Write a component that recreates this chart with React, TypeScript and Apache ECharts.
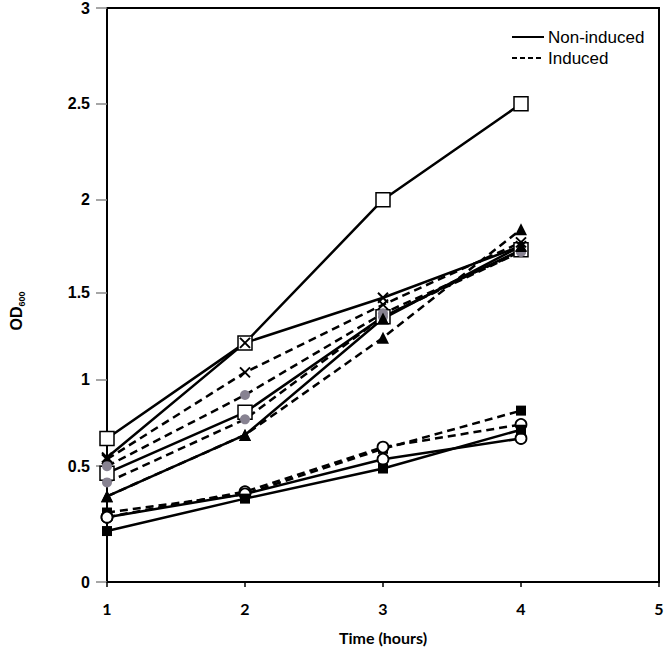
import React, { useEffect, useRef } from "react";
import * as echarts from "echarts";

// ---- data ----
const TIMES = [1, 2, 3, 4];
const X_TICKS = [1, 2, 3, 4, 5];
const Y_TICKS = [0, 0.5, 1, 1.5, 2, 2.5, 3];
const Y_TICK_LABELS = ["0", "0.5", "1", "1.5", "2", "2.5", "3"];
const LEGEND_LABELS = ["Non-induced", "Induced"];

const OPEN_SQUARE_A_NON = [0.66, 1.21, 2.0, 2.5];
const CROSS_NON = [0.55, 1.21, 1.47, 1.75];
const CROSS_IND = [0.54, 1.04, 1.43, 1.77];
const OPEN_SQUARE_B_NON = [0.47, 0.81, 1.36, 1.73];
const GRAY_CIRCLE_A_IND = [0.5, 0.91, 1.38, 1.72];
const GRAY_CIRCLE_B_IND = [0.43, 0.77, 1.36, 1.72];
const TRIANGLE_NON = [0.37, 0.68, 1.35, 1.75];
const TRIANGLE_IND = [0.37, 0.68, 1.24, 1.84];
const FILLED_SQUARE_IND = [0.3, 0.38, 0.6, 0.82];
const OPEN_CIRCLE_IND = [0.28, 0.39, 0.61, 0.74];
const OPEN_CIRCLE_NON = [0.28, 0.38, 0.54, 0.66];
const FILLED_SQUARE_NON = [0.22, 0.36, 0.49, 0.71];

// ---- axis layout: the reference's y axis has uneven tick spacing ----
// axis units (≈ px from the bottom of the plot) at which each Y_TICKS value sits
const Y_AXIS_STOPS = [0, 116, 203, 290, 383, 479, 575];

function toAxis(v: number): number {
  for (let i = 0; i < Y_TICKS.length - 1; i++) {
    if (v <= Y_TICKS[i + 1]) {
      const t = (v - Y_TICKS[i]) / (Y_TICKS[i + 1] - Y_TICKS[i]);
      return Y_AXIS_STOPS[i] + t * (Y_AXIS_STOPS[i + 1] - Y_AXIS_STOPS[i]);
    }
  }
  return Y_AXIS_STOPS[Y_AXIS_STOPS.length - 1];
}

const GRAY = "#878291";
const CROSS_PATH = "path://M0,0L10,10M10,0L0,10";
const ARIAL = "Liberation Sans, Arial, sans-serif";
const CALIBRI_LIKE = "Lato, sans-serif";

type Marker = "openSquare" | "cross" | "grayCircle" | "triangle" | "filledSquare" | "openCircle";

const SERIES: { name: string; values: number[]; marker: Marker; dashed: boolean }[] = [
  { name: "Open square A (non-induced)", values: OPEN_SQUARE_A_NON, marker: "openSquare", dashed: false },
  { name: "Open square B (non-induced)", values: OPEN_SQUARE_B_NON, marker: "openSquare", dashed: false },
  { name: "Cross (induced)", values: CROSS_IND, marker: "cross", dashed: true },
  { name: "Cross (non-induced)", values: CROSS_NON, marker: "cross", dashed: false },
  { name: "Gray circle A (induced)", values: GRAY_CIRCLE_A_IND, marker: "grayCircle", dashed: true },
  { name: "Gray circle B (induced)", values: GRAY_CIRCLE_B_IND, marker: "grayCircle", dashed: true },
  { name: "Triangle (non-induced)", values: TRIANGLE_NON, marker: "triangle", dashed: false },
  { name: "Triangle (induced)", values: TRIANGLE_IND, marker: "triangle", dashed: true },
  { name: "Filled square (induced)", values: FILLED_SQUARE_IND, marker: "filledSquare", dashed: true },
  { name: "Open circle (induced)", values: OPEN_CIRCLE_IND, marker: "openCircle", dashed: true },
  { name: "Open circle (non-induced)", values: OPEN_CIRCLE_NON, marker: "openCircle", dashed: false },
  { name: "Filled square (non-induced)", values: FILLED_SQUARE_NON, marker: "filledSquare", dashed: false },
];

function markerStyle(m: Marker) {
  switch (m) {
    case "openSquare":
      return { symbol: "rect", symbolSize: 14, itemStyle: { color: "#fff", borderColor: "#000", borderWidth: 1.5 } };
    case "cross":
      return { symbol: CROSS_PATH, symbolSize: 10, itemStyle: { color: "transparent", borderColor: "#000", borderWidth: 2 } };
    case "grayCircle":
      return { symbol: "circle", symbolSize: 10, itemStyle: { color: GRAY, borderWidth: 0 } };
    case "triangle":
      return { symbol: "triangle", symbolSize: 12, itemStyle: { color: "#000", borderWidth: 0 } };
    case "filledSquare":
      return { symbol: "rect", symbolSize: 10, itemStyle: { color: "#000", borderWidth: 0 } };
    case "openCircle":
      return { symbol: "circle", symbolSize: 11, itemStyle: { color: "#fff", borderColor: "#000", borderWidth: 1.8 } };
  }
}

const DASH = [8, 5];

export default function App() {
  const ref = useRef<HTMLDivElement>(null);

  useEffect(() => {
    if (!ref.current) return;
    const chart = echarts.init(ref.current, undefined, { renderer: "svg" });

    const dataSeries = SERIES.map((s) => ({
      name: s.name,
      type: "line",
      data: TIMES.map((t, i) => [t, toAxis(s.values[i])]),
      showSymbol: true,
      ...markerStyle(s.marker),
      lineStyle: { color: "#000", width: 2.5, type: s.dashed ? DASH : "solid" },
      emphasis: { disabled: true },
      z: 3,
    }));

    const legendRows = LEGEND_LABELS.map((label, i) => {
      const y = 37 + i * 21;
      return [
        {
          type: "line",
          shape: { x1: 512, y1: y, x2: 544, y2: y },
          style: { stroke: "#000", lineWidth: 2, lineDash: i === 0 ? null : [5, 3] },
        },
        {
          type: "text",
          x: 548,
          y,
          style: { text: label, fontFamily: ARIAL, fontSize: 17, fill: "#000", align: "left", verticalAlign: "middle" },
        },
      ];
    }).flat();

    chart.setOption({
      animation: false,
      backgroundColor: "#fff",
      grid: {
        left: 107,
        top: 7,
        width: 552,
        height: 575,
        show: true,
        borderColor: "#000",
        borderWidth: 2,
        backgroundColor: "transparent",
      },
      xAxis: {
        type: "value",
        min: X_TICKS[0],
        max: X_TICKS[X_TICKS.length - 1],
        interval: 1,
        name: "Time (hours)",
        nameLocation: "middle",
        nameGap: 47,
        nameTextStyle: { fontFamily: CALIBRI_LIKE, fontWeight: "bold", fontSize: 16, color: "#000" },
        axisLine: { show: true, lineStyle: { color: "#000", width: 2 } },
        axisTick: { show: true, length: 5, lineStyle: { color: "#000", width: 1.5 } },
        axisLabel: { margin: 18, fontFamily: CALIBRI_LIKE, fontWeight: "bold", fontSize: 16, color: "#000" },
        splitLine: { show: false },
      },
      yAxis: {
        type: "value",
        min: Y_AXIS_STOPS[0],
        max: Y_AXIS_STOPS[Y_AXIS_STOPS.length - 1],
        axisLine: { show: true, lineStyle: { color: "#000", width: 2 } },
        axisTick: { show: true, length: 11, customValues: Y_AXIS_STOPS, lineStyle: { color: "#888", width: 1.5 } },
        axisLabel: {
          customValues: Y_AXIS_STOPS,
          margin: 17,
          fontFamily: ARIAL,
          fontWeight: "bold",
          fontSize: 16,
          color: "#000",
          formatter: (val: number) => {
            let best = 0;
            for (let i = 0; i < Y_AXIS_STOPS.length; i++) {
              if (Math.abs(Y_AXIS_STOPS[i] - val) < Math.abs(Y_AXIS_STOPS[best] - val)) best = i;
            }
            return Y_TICK_LABELS[best];
          },
        },
        splitLine: { show: false },
      },
      graphic: [
        {
          type: "text",
          x: 16,
          y: 311,
          rotation: Math.PI / 2,
          style: {
            text: "{a|OD}{b|600}",
            align: "center",
            verticalAlign: "middle",
            rich: {
              a: { fontFamily: ARIAL, fontWeight: "bold", fontSize: 16, fill: "#000", lineHeight: 20, verticalAlign: "middle" },
              b: { fontFamily: ARIAL, fontWeight: "bold", fontSize: 9, fill: "#000", lineHeight: 20, verticalAlign: "bottom" },
            },
          },
        },
        ...legendRows,
      ],
      series: dataSeries,
    });

    return () => chart.dispose();
  }, []);

  return <div ref={ref} style={{ position: "absolute", left: 0, top: 0, width: 668, height: 652 }} />;
}
